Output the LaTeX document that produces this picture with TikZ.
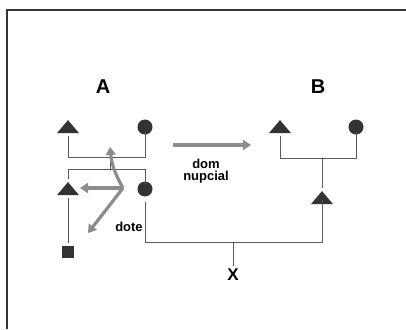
\documentclass[tikz,border=0pt]{standalone}
\usepackage{fontspec}
\setmainfont{Liberation Sans}
\usetikzlibrary{arrows.meta,positioning,shapes.geometric,calc}
\definecolor{ink}{HTML}{333333}
\definecolor{kin}{HTML}{5A5A5A}
\definecolor{gift}{HTML}{8C8C8C}

\begin{document}
\begin{tikzpicture}[
    x=1pt, y=-1pt,
    every node/.style={font=\bfseries},
    male/.style={isosceles triangle, isosceles triangle stretches, shape border rotate=90, fill=ink, minimum width=22pt, minimum height=13pt, inner sep=0pt},
    female/.style={circle, fill=ink, minimum size=15pt, inner sep=0pt},
    child/.style={rectangle, fill=ink, minimum size=12pt, inner sep=0pt},
    kinline/.style={draw=kin, line width=1pt},
    giftarr/.style={-{Triangle[length=8pt, width=10pt]}, draw=gift, line width=3.2pt},
    lbl/.style={font=\bfseries\fontsize{13}{13}\selectfont, align=center},
]
    \useasboundingbox (0,0) rectangle (406,329);
    % frame
    \draw[ink, line width=1.4pt] (7,329) -- (7,10) -- (406,10);

    % group A
    \node[font=\bfseries\fontsize{20}{22}\selectfont] (la) at (103,87) {A};
    \node[male] (fa) at (68,128) {};
    \node[female] (ma) at (145,127) {};
    \node[male] (ch) at (68,190) {};
    \node[female] (cw) at (145,189) {};
    \node[child] (sq) at (68,252) {};

    % group B
    \node[font=\bfseries\fontsize{20}{22}\selectfont] (lb) at (318,87) {B};
    \node[male] (fb) at (280,128) {};
    \node[female] (mb) at (356,127) {};
    \node[male] (bc) at (322,199) {};

    % marriages and descent
    \draw[kinline, shorten <=3pt] (fa.south) -- (fa.south |- 0,157) -| ([yshift=3pt]ma.south);
    \coordinate (am) at (110,157);
    \draw[kinline] (am) -- (am |- 0,169);
    \draw[kinline, shorten <=3pt] (ch.north) -- (ch.north |- 0,169) -| ([yshift=-3pt]cw.north);
    \draw[kinline, shorten <=3pt, shorten >=3pt] (sq) -- (ch);
    \draw[kinline, shorten <=3pt] (fb.south) -- (fb.south |- 0,158) -| ([yshift=3pt]mb.south);
    \coordinate (bm) at (321,158);
    \draw[kinline, shorten >=3pt] (bm) -- (bm -| bc.north) -- (bc.north);
    \draw[kinline, shorten <=5pt] (cw.south) -- (cw.south |- 0,242) -| ([yshift=4pt]bc.south);
    \coordinate (xm) at (233,242);
    \node[font=\bfseries\fontsize{17}{18}\selectfont] (x) at (233,275) {X};
    \draw[kinline] (xm) -- (x.north);

    % dowry
    \coordinate (dt) at (123,188);
    \coordinate (d1) at (110,147);
    \coordinate (d2) at (80,188);
    \coordinate (d3) at (88,233);
    \draw[giftarr] (dt) to[bend left=12] (d1);
    \draw[giftarr] (dt) -- (d2);
    \draw[giftarr] (dt) -- (d3);
    \node[lbl] (dote) at (129,227) {dote};

    % bride wealth
    \coordinate (bw1) at (173,145);
    \coordinate (bw2) at (251,145);
    \draw[giftarr] (bw1) -- (bw2);
    \node[lbl] (dn) at (206,171) {dom\\[-1pt]nupcial};
\end{tikzpicture}
\end{document}
